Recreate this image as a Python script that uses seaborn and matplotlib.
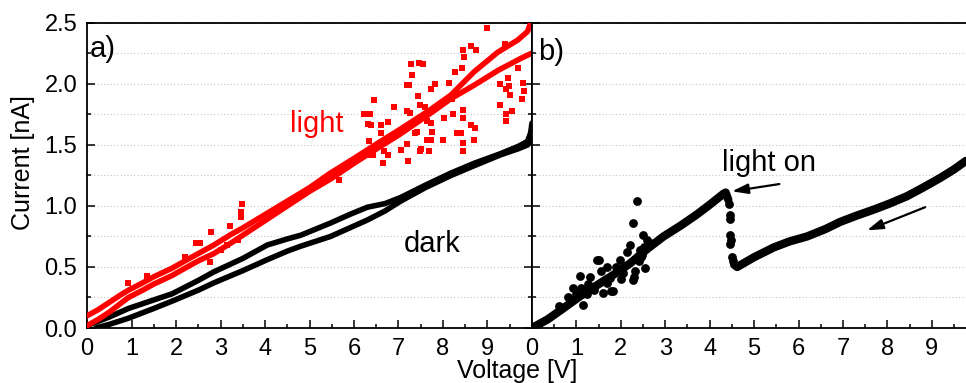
import pandas as pd
import seaborn as sns
import matplotlib.pyplot as plt
import matplotlib.ticker as mticker

# panel a) - light, two sweep branches
red_up_v = [0.00, 0.25, 0.50, 0.75, 0.93, 1.25, 1.50, 1.91, 2.25, 2.50, 2.85, 3.25, 3.50, 4.00, 4.50,
            5.00, 5.47, 6.00, 6.60, 7.00, 7.72, 8.18, 8.70, 9.23, 9.68, 9.90, 9.98]
red_up_i = [0.10, 0.15, 0.21, 0.27, 0.31, 0.37, 0.42, 0.49, 0.56, 0.61, 0.68, 0.77, 0.82, 0.93, 1.04,
            1.15, 1.27, 1.39, 1.53, 1.62, 1.79, 1.91, 2.10, 2.26, 2.36, 2.43, 2.51]
red_lo_v = [0.00, 0.25, 0.50, 0.75, 0.93, 1.25, 1.50, 1.91, 2.25, 2.50, 2.85, 3.25, 3.50, 4.00, 4.50,
            5.00, 5.47, 6.00, 6.60, 7.00, 7.72, 8.18, 8.70, 9.23, 9.75, 9.98]
red_lo_i = [0.02, 0.07, 0.13, 0.20, 0.25, 0.31, 0.36, 0.43, 0.50, 0.55, 0.61, 0.70, 0.76, 0.88, 1.00,
            1.12, 1.22, 1.35, 1.49, 1.58, 1.76, 1.88, 1.99, 2.11, 2.21, 2.25]

# panel a) - scattered light points
red_out_v = [9.00, 8.44, 8.64, 8.74, 8.48, 9.39, 7.27, 7.46, 7.56, 7.30, 7.18, 7.24, 7.73, 7.82, 8.14,
             8.26, 8.43, 6.46, 6.22, 6.36, 6.31, 6.39, 6.61, 6.76, 6.91, 7.18, 7.26, 7.44, 7.48, 7.59,
             7.65, 7.73, 7.76, 7.42, 7.36, 8.03, 8.23, 8.44, 8.46, 8.32, 8.40, 8.63, 8.72, 8.70, 8.44,
             8.01, 7.64, 7.74, 7.51, 7.69, 7.48, 7.20, 7.05, 7.21, 6.67, 6.37, 6.43, 6.66, 6.34, 6.61,
             6.76, 9.29, 9.41, 9.41, 9.54, 9.29, 9.41, 9.49, 9.51, 9.79, 9.77, 9.81, 9.47, 9.68, 8.21,
             8.27, 8.45, 5.66, 3.48, 3.45, 3.45, 2.78, 2.45, 2.54, 2.21, 2.77, 3.02, 3.39, 0.92, 1.34,
             3.22, 3.15]
red_out_i = [2.46, 2.28, 2.31, 2.28, 2.22, 2.33, 2.16, 2.17, 2.16, 2.07, 1.99, 1.99, 1.96, 2.00, 2.01,
             2.10, 2.13, 1.87, 1.75, 1.75, 1.67, 1.66, 1.66, 1.69, 1.81, 1.78, 1.76, 1.90, 1.83, 1.81,
             1.70, 1.68, 1.61, 1.61, 1.60, 1.72, 1.75, 1.79, 1.72, 1.60, 1.60, 1.66, 1.64, 1.54, 1.45,
             1.54, 1.54, 1.54, 1.47, 1.45, 1.45, 1.51, 1.46, 1.37, 1.45, 1.42, 1.42, 1.35, 1.53, 1.60,
             1.42, 1.83, 1.75, 1.70, 1.78, 2.00, 1.96, 1.98, 1.91, 2.01, 1.88, 1.94, 2.05, 2.13, 1.88,
             1.92, 1.52, 1.21, 1.02, 0.95, 0.91, 0.79, 0.70, 0.70, 0.58, 0.54, 0.64, 0.72, 0.37, 0.43,
             0.84, 0.68]

# panel a) - dark, two sweep branches
blk_up_v = [0.00, 0.50, 0.93, 1.50, 1.91, 2.50, 2.85, 3.50, 4.05, 4.50, 4.80, 5.47, 5.90, 6.30, 6.70,
            7.05, 7.60, 8.18, 8.70, 9.30, 9.70, 9.90, 9.97, 10.0]
blk_up_i = [0.02, 0.09, 0.16, 0.23, 0.28, 0.39, 0.46, 0.57, 0.68, 0.73, 0.76, 0.86, 0.93, 0.99, 1.02,
            1.07, 1.17, 1.27, 1.35, 1.43, 1.49, 1.53, 1.60, 1.68]
blk_lo_v = [0.20, 0.50, 0.93, 1.50, 1.91, 2.50, 2.85, 3.50, 4.05, 4.50, 4.80, 5.47, 5.90, 6.30, 6.70,
            7.05, 7.60, 8.18, 8.70, 9.30, 9.70, 9.90, 9.97, 10.0]
blk_lo_i = [0.00, 0.03, 0.08, 0.16, 0.22, 0.31, 0.37, 0.47, 0.56, 0.63, 0.67, 0.75, 0.82, 0.885, 0.96,
            1.04, 1.15, 1.25, 1.33, 1.42, 1.47, 1.50, 1.56, 1.62]

# panel b) - rising part before light on, and after the drop
b_rise_v = [0.00, 0.20, 0.35, 0.70, 1.08, 1.46, 1.85, 2.21, 2.60, 2.96, 3.35, 3.71, 4.00, 4.31, 4.36, 4.42]
b_rise_i = [0.00, 0.04, 0.07, 0.16, 0.26, 0.35, 0.44, 0.53, 0.65, 0.75, 0.84, 0.93, 1.01, 1.10, 1.11, 1.05]
b_fall_v = [4.55, 4.62, 4.76, 5.00, 5.44, 5.80, 6.19, 6.60, 6.94, 7.30, 7.69, 8.05, 8.44, 8.80, 9.19,
            9.50, 9.77]
b_fall_i = [0.52, 0.50, 0.53, 0.58, 0.66, 0.71, 0.75, 0.81, 0.87, 0.92, 0.97, 1.02, 1.08, 1.15, 1.23,
            1.30, 1.37]
b_pts_v = [4.44, 4.46, 4.46, 4.46, 4.47, 4.46, 4.50, 4.52,
           2.37, 2.27, 1.47, 1.08, 2.28, 2.30, 1.83, 1.15, 2.51, 2.55, 2.21, 2.43, 0.93, 1.68, 1.98, 2.48,
           2.40, 1.30, 0.98, 1.60, 2.05, 2.60, 2.65, 1.75, 2.33, 2.15, 1.25, 0.80, 1.50, 1.79, 1.68, 1.23,
           1.40, 1.90, 2.00, 1.55, 1.10, 0.60, 2.52, 2.45]
b_pts_i = [1.02, 0.93, 0.89, 0.76, 0.72, 0.69, 0.58, 0.55,
           1.04, 0.86, 0.56, 0.43, 0.39, 0.42, 0.30, 0.19, 0.76, 0.49, 0.68, 0.64, 0.33, 0.50, 0.56, 0.60,
           0.55, 0.42, 0.28, 0.29, 0.45, 0.72, 0.70, 0.41, 0.47, 0.62, 0.36, 0.25, 0.56, 0.30, 0.37, 0.28,
           0.31, 0.50, 0.40, 0.47, 0.33, 0.18, 0.66, 0.58]

sns.set_theme(style="ticks")
plt.rcParams['font.family'] = ['Liberation Sans', 'DejaVu Sans']
plt.rcParams['text.color'] = 'black'
plt.rcParams['axes.labelcolor'] = 'black'
plt.rcParams['xtick.color'] = 'black'
plt.rcParams['ytick.color'] = 'black'

fig = plt.figure(figsize=(9.66, 3.83), dpi=100)
ax_a = fig.add_axes([0.0901, 0.1436, 0.4606, 0.7964])
ax_b = fig.add_axes([0.5507, 0.1436, 0.4493, 0.7964])

# panel a)
for v, i in [(blk_up_v, blk_up_i), (blk_lo_v, blk_lo_i)]:
    sns.lineplot(x=v, y=i, ax=ax_a, sort=False, estimator=None, color='black', lw=4,
                 solid_capstyle='round', zorder=3)
for v, i in [(red_up_v, red_up_i), (red_lo_v, red_lo_i)]:
    sns.lineplot(x=v, y=i, ax=ax_a, sort=False, estimator=None, color='#ff0000', lw=4,
                 solid_capstyle='round', zorder=4)
sns.scatterplot(x=red_out_v, y=red_out_i, ax=ax_a, color='#ff0000', marker='s', s=14,
                linewidth=0, zorder=4)

# panel b)
sns.lineplot(x=b_rise_v, y=b_rise_i, ax=ax_b, sort=False, estimator=None, color='black', lw=6,
             solid_capstyle='round', zorder=3)
sns.lineplot(x=b_fall_v, y=b_fall_i, ax=ax_b, sort=False, estimator=None, color='black', lw=6,
             solid_capstyle='round', zorder=3)
sns.scatterplot(x=b_pts_v, y=b_pts_i, ax=ax_b, color='black', marker='o', s=40, linewidth=0, zorder=3)

for ax in (ax_a, ax_b):
    ax.set_ylim(0, 2.5)
    ax.yaxis.set_major_locator(mticker.MultipleLocator(0.5))
    ax.yaxis.set_minor_locator(mticker.MultipleLocator(0.25))
    ax.yaxis.set_major_formatter(mticker.FormatStrFormatter('%.1f'))
    ax.xaxis.set_minor_locator(mticker.MultipleLocator(0.5))
    ax.yaxis.grid(True, which='both', linestyle=(0, (1, 2)), color='#c4c4c4', linewidth=0.8)
    ax.set_axisbelow(True)
    ax.tick_params(which='both', direction='in', top=False, width=1.1, labelsize=17, pad=7)
    ax.tick_params(which='major', length=6)
    ax.tick_params(which='minor', length=3)
    for sp in ax.spines.values():
        sp.set_linewidth(1.3)
        sp.set_color('black')
    ax.set_xlabel('')
    ax.set_ylabel('')

ax_a.set_xlim(0, 10)
ax_a.xaxis.set_major_locator(mticker.FixedLocator(list(range(10))))
ax_a.tick_params(axis='y', which='both', left=True, right=True)

ax_b.set_xlim(0, 9.77)
ax_b.xaxis.set_major_locator(mticker.MultipleLocator(1))
ax_b.tick_params(axis='y', which='both', left=True, right=False, labelleft=False)
ax_b.spines['right'].set_visible(False)

# labels inside panels
ax_a.text(0.07, 2.22, 'a)', fontsize=21, va='baseline')
ax_a.text(4.57, 1.61, 'light', fontsize=21, color='#ff0000', va='baseline')
ax_a.text(7.12, 0.62, 'dark', fontsize=21, va='baseline')
ax_b.text(0.135, 2.20, 'b)', fontsize=21, va='baseline')
ax_b.text(4.28, 1.29, 'light on', fontsize=21, va='baseline')

arrow = dict(arrowstyle='-|>,head_length=0.8,head_width=0.25', color='black', lw=1.6,
             mutation_scale=12, shrinkA=0, shrinkB=0)
ax_b.annotate('', xy=(4.50, 1.12), xytext=(5.57, 1.18), arrowprops=arrow)
ax_b.annotate('', xy=(7.54, 0.80), xytext=(8.85, 0.99), arrowprops=arrow)

fig.text(23 / 966, 1 - 163 / 383, 'Current [nA]', rotation=90, ha='center', va='center', fontsize=18)
fig.text(517 / 966, 1 - 371 / 383, 'Voltage [V]', ha='center', va='center', fontsize=18)

fig.savefig('out.png', dpi=100)
